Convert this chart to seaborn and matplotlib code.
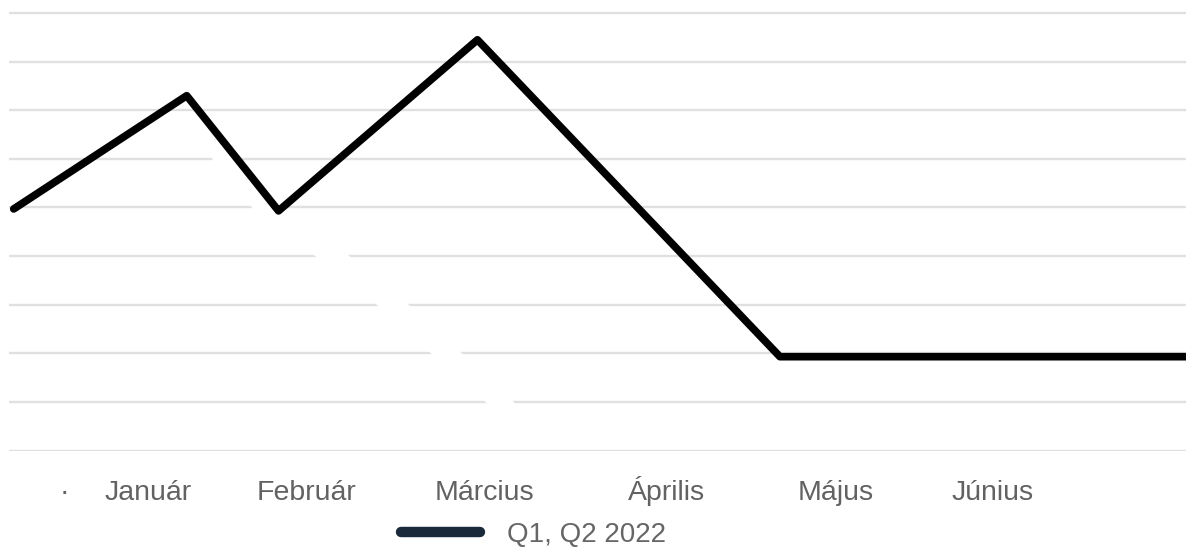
import numpy as np
import pandas as pd
import matplotlib
matplotlib.use("Agg")
import matplotlib.pyplot as plt
from matplotlib.lines import Line2D
import seaborn as sns

# ---------------- data ----------------
series_name = "Q1, Q2 2022"
x_pos = [0.4, 15.1, 22.9, 39.8, 65.5, 100.0]
values = [4.97, 7.3, 4.93, 8.45, 1.93, 1.93]

# hidden (white) series that cuts through the gridlines
hidden_x = [17.5, 18.2, 21.8, 27.4, 32.6, 37.1, 41.7, 42.6]
hidden_y = [6.4, 6.02, 5.0, 4.02, 3.01, 2.01, 1.02, 0.73]

tick_pos = [4.67, 11.85, 25.3, 40.4, 55.9, 70.2, 83.6]
tick_labels = ["·", "Január", "Február", "Március", "Április", "Május", "Június"]
grid_levels = list(range(0, 10))

# ---------------- style ----------------
sns.set_style("white")
plt.rcParams["font.family"] = ["Liberation Sans", "DejaVu Sans"]

W, H = 1186, 549
fig = plt.figure(figsize=(W / 100, H / 100), dpi=100)
ax = fig.add_axes([9 / W, 1 - 450.5 / H, 1 - 9 / W, 449.6 / H])

df = pd.DataFrame({"x": x_pos, "y": values, "series": series_name})
dh = pd.DataFrame({"x": hidden_x, "y": hidden_y})

sns.lineplot(data=dh, x="x", y="y", color="white", linewidth=15, sort=False,
             ax=ax, legend=False, zorder=2)
sns.lineplot(data=df, x="x", y="y", color="black", linewidth=5.5, sort=False,
             ax=ax, legend=False, zorder=3,
             solid_joinstyle="round", solid_capstyle="round")

ax.set_xlim(0, 100)
ax.set_ylim(0, 9.25)
ax.set_yticks(grid_levels)
ax.yaxis.grid(True, color="#e0e0e0", linewidth=1.7)
ax.xaxis.grid(False)
ax.set_axisbelow(True)
ax.tick_params(axis="y", left=False, labelleft=False)
for s in ax.spines.values():
    s.set_visible(False)

ax.set_xticks(tick_pos, tick_labels)
ax.tick_params(axis="x", length=0, pad=35.6, labelsize=20.5, labelcolor="#626262")
for lab in ax.get_xticklabels():
    lab.set_va("baseline")
ax.set_xlabel("")
ax.set_ylabel("")

handle = Line2D([], [], color="#1b2a3a", linewidth=7.5, solid_capstyle="round")
fig.legend(handles=[handle], labels=[series_name], loc="center left",
           bbox_to_anchor=(401 / W, 1 - 535 / H), frameon=False,
           handlelength=2.85, handletextpad=0.95, borderpad=0, borderaxespad=0,
           fontsize=20, labelcolor="#666666")

fig.savefig("out.png", dpi=100)
